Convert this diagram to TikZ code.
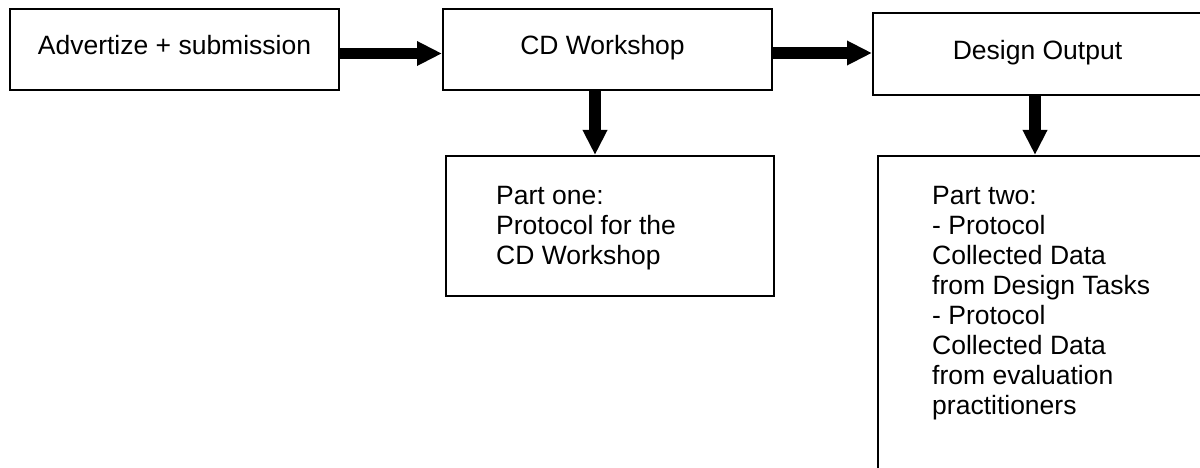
\documentclass[tikz,border=0pt]{standalone}
\usepackage{fontspec}
\setmainfont{Liberation Sans}
\usetikzlibrary{arrows.meta}
\tikzset{
  box/.style={draw=black, line width=2pt, rectangle, inner sep=0pt, font=\fontsize{26.5}{30}\selectfont, text height=19pt, text depth=8pt},
  boxtext/.style={anchor=north west, inner sep=0pt, align=left, font=\fontsize{26.5}{30}\selectfont},
  bigarrow/.style={line width=11.5pt, -{Triangle[length=25pt, width=23pt]}},
}
\begin{document}
\begin{tikzpicture}[x=1pt, y=-1pt]
\useasboundingbox (0,0) rectangle (1200,468);
\clip (0,0) rectangle (1200,468);
\node[box, minimum width=329pt, minimum height=81pt] (b1) at (174.5,49.5) {Advertize + submission};
\node[box, minimum width=329pt, minimum height=81pt] (b2) at (607.5,49.5) {CD Workshop\hspace*{10pt}};
\node[box, minimum width=329pt, minimum height=82pt] (b3) at (1037.5,54) {Design Output};
\node[box, minimum width=328pt, minimum height=140pt] (p1) at (610,226) {};
\node[box, minimum width=328pt, minimum height=330pt] (p2) at (1042,321) {};
\node[boxtext] (p1t) at (496,186) {Part one:\\Protocol for the\\CD Workshop};
\node[boxtext] (p2t) at (932,186) {Part two:\\- Protocol\\Collected Data\\from Design Tasks\\- Protocol\\Collected Data\\from evaluation\\practitioners};
\draw[bigarrow] ([yshift=-4pt]b1.east) -- ([yshift=-4pt]b2.west);
\draw[bigarrow] ([yshift=-3.5pt]b2.east) -- ([yshift=1pt]b3.west);
\draw[bigarrow] ([xshift=-12.5pt]b2.south) -- ([xshift=-12.5pt]b2.south |- p1.north);
\draw[bigarrow] ([xshift=-2.5pt]b3.south) -- ([xshift=-2.5pt]b3.south |- p2.north);
\end{tikzpicture}
\end{document}
